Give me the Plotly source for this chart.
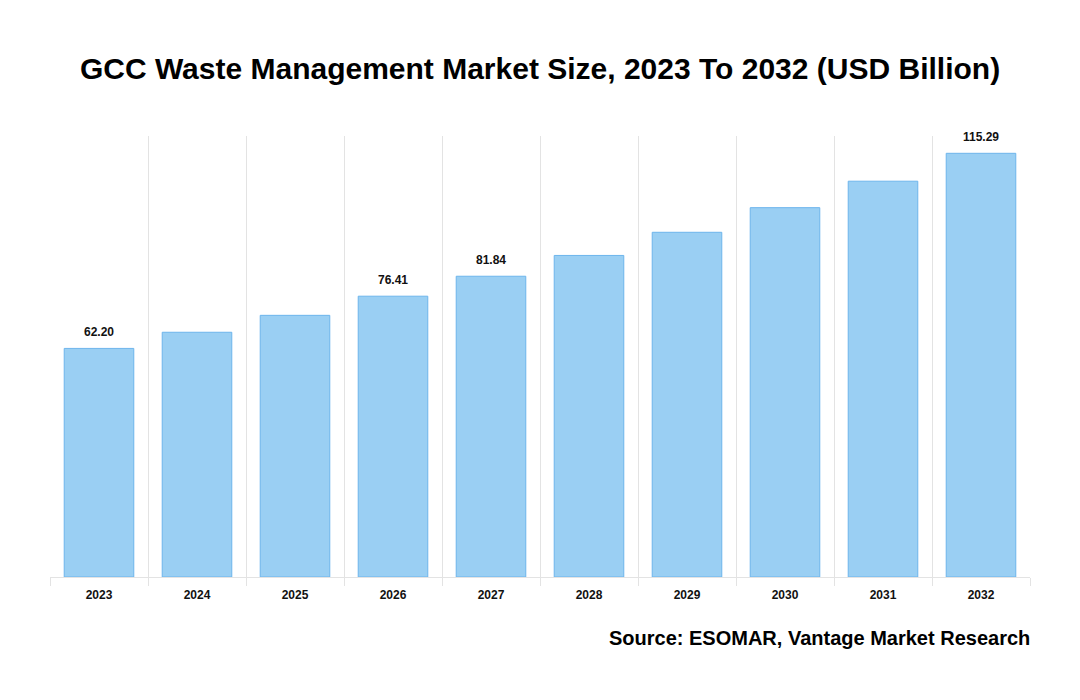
import plotly.graph_objects as go

years = ["2023", "2024", "2025", "2026", "2027", "2028", "2029", "2030", "2031", "2032"]
values = [62.20, 66.6, 71.2, 76.41, 81.84, 87.5, 93.8, 100.5, 107.7, 115.29]
labels = ["62.20", "", "", "76.41", "81.84", "", "", "", "", "115.29"]

OFF = 8  # page body margin
FONT = "Liberation Sans, Arial, sans-serif"

fig = go.Figure()
fig.add_trace(go.Bar(
    x=years, y=values,
    marker=dict(color="#9ACFF3", line=dict(color="#6DB5EC", width=1)),
    width=0.71,
    hoverinfo="x+y",
))
for i, (v, t) in enumerate(zip(values, labels)):
    if t:
        fig.add_annotation(x=i, y=v, text=f"<b>{t}</b>", showarrow=False,
                           yanchor="bottom", yshift=7,
                           font=dict(family=FONT, size=12, color="#111"))
fig.update_layout(
    width=1080, height=700,
    margin=dict(l=50 - OFF, r=50 + OFF, t=136 - OFF, b=123 + OFF),
    paper_bgcolor="white", plot_bgcolor="white",
    title=dict(text="<b>GCC Waste Management Market Size, 2023 To 2032 (USD Billion)</b>",
               x=(540 - OFF) / 1080, xanchor="center", y=1 - (68 - OFF) / 700, yanchor="middle",
               font=dict(family=FONT, size=30, color="#000")),
    font=dict(family=FONT),
    showlegend=False,
    bargap=0.29,
)
fig.update_xaxes(
    type="category", range=[-0.5, len(years) - 0.5],
    tickson="boundaries", showgrid=True, gridcolor="#e3e3e3", gridwidth=1,
    ticks="outside", ticklen=8, tickcolor="#e3e3e3",
    showline=True, linecolor="#e3e3e3",
    ticklabelstandoff=7,
    tickfont=dict(family=FONT, size=12, color="#111"),
    tickprefix="<b>", ticksuffix="</b>",
)
fig.update_yaxes(range=[0, 120], showgrid=False, showticklabels=False, zeroline=False, visible=False)
fig.add_annotation(
    text="<b>Source: ESOMAR, Vantage Market Research</b>",
    xref="paper", yref="paper", x=1 + 2 / 980, y=-(638 - 577) / 441, xanchor="right", yanchor="middle",
    showarrow=False, font=dict(family=FONT, size=20, color="#000"),
)
fig.write_html("out.html")
